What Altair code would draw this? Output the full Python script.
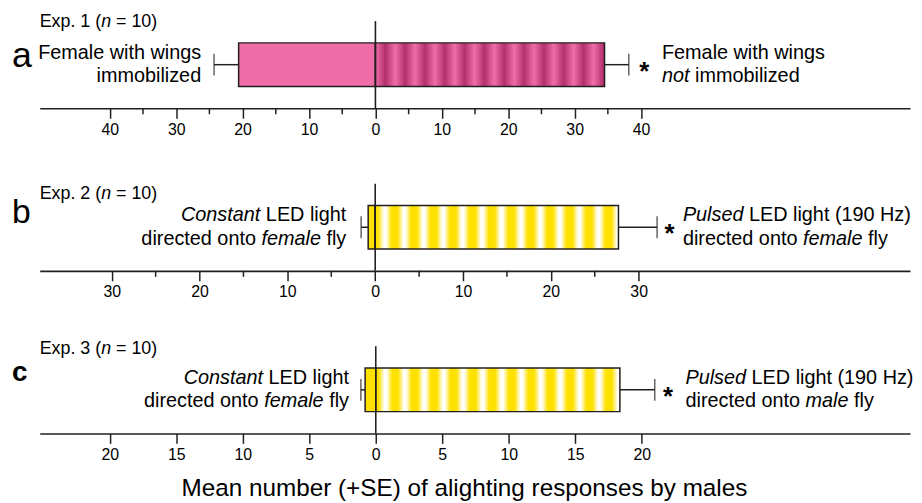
import altair as alt
import pandas as pd

# ---------------- data ----------------
experiments = ["Exp. 1", "Exp. 2", "Exp. 3"]
panel_letters = ["a", "b", "c"]
n_flies = [10, 10, 10]
left_means = [20.6, 0.8, 0.8]
left_se = [3.7, 0.8, 0.32]
right_means = [34.5, 27.7, 18.35]
right_se = [3.65, 4.4, 2.62]
significance = ["*", "*", "*"]

major_ticks = [
    [-40, -30, -20, -10, 0, 10, 20, 30, 40],
    [-30, -20, -10, 0, 10, 20, 30],
    [-20, -15, -10, -5, 0, 5, 10, 15, 20],
]
minor_ticks = [
    [-35, -25, -15, -5, 5, 15, 25, 35],
    [-25, -15, -5, 5, 15, 25],
    [],
]
x_domains = [[-50.55, 80.5], [-38.2, 60.9], [-25.26, 40.16]]

# each line is a list of (text, italic) segments; a leading space marks a gap
left_labels = [
    [[("Female with wings", False)], [("immobilized", False)]],
    [[("Constant", True), (" LED light", False)],
     [("directed onto", False), (" female", True), (" fly", False)]],
    [[("Constant", True), (" LED light", False)],
     [("directed onto", False), (" female", True), (" fly", False)]],
]
right_labels = [
    [[("Female with wings", False)], [("not", True), (" immobilized", False)]],
    [[("Pulsed", True), (" LED light (190 Hz)", False)],
     [("directed onto", False), (" female", True), (" fly", False)]],
    [[("Pulsed", True), (" LED light (190 Hz)", False)],
     [("directed onto", False), (" male", True), (" fly", False)]],
]
x_title = "Mean number (+SE) of alighting responses by males"

# ---------------- style ----------------
FONT = "Liberation Sans"
INK = "#231F20"
PINK = "#F06EA8"
MAGENTA = "#B3306C"
YELLOW = "#FFE100"
WHITE = "#FFFFFF"
PW, PH = 878, 88
LABEL_SIZE = 20
left_gap = [-13, -15, -12]
right_gap = [33.5, 26, 31]
star_gap = [15.5, 12.5, 13.5]
exp_dy = [-38, -29, -36]
letter_dy = [2, -4, -8.5]
letter_size = [36, 34, 28]
letter_weight = ["normal", "normal", "bold"]
line_dy = [-6, 17.5]

CW = {' ': 278, '(': 333, ')': 333, '+': 584, '.': 278, '=': 584, '*': 389,
      'A': 667, 'B': 667, 'C': 722, 'D': 722, 'E': 667, 'F': 611, 'H': 722,
      'L': 556, 'M': 833, 'P': 667, 'S': 667,
      'a': 556, 'b': 556, 'c': 500, 'd': 556, 'e': 556, 'f': 278, 'g': 556,
      'h': 556, 'i': 222, 'j': 222, 'k': 500, 'l': 222, 'm': 833, 'n': 556,
      'o': 556, 'p': 556, 'q': 556, 'r': 333, 's': 500, 't': 278, 'u': 556,
      'v': 500, 'w': 722, 'x': 500, 'y': 500, 'z': 500}
for d in "0123456789":
    CW[d] = 556


def tw(s, size):
    return sum(CW.get(c, 556) for c in s) * size / 1000.0


def hex2rgb(h):
    h = h.lstrip("#")
    return [int(h[k:k + 2], 16) for k in (0, 2, 4)]


def mix(c1, c2, t):
    a, b = hex2rgb(c1), hex2rgb(c2)
    return "#" + "".join(f"{round(a[k] + (b[k] - a[k]) * t):02x}" for k in range(3))


def stripe_stops(bar_px, period, profile):
    stops = []
    prev = None
    k = 0
    while True:
        for ph, col in profile:
            off = (k + ph) * period / bar_px
            if off >= 1:
                if prev is not None and off > prev[0]:
                    t = (1 - prev[0]) / (off - prev[0])
                    col = mix(prev[1], col, t)
                stops.append(alt.GradientStop(offset=1, color=col))
                return stops
            stops.append(alt.GradientStop(offset=round(off, 5), color=col))
            prev = (off, col)
        k += 1


pink_profile = [(0, PINK), (0.5, MAGENTA)]
yellow_profile = [(0, YELLOW), (0.15, YELLOW), (0.45, WHITE), (0.55, WHITE), (0.85, YELLOW)]


def axis_for(i):
    kw = dict(values=major_ticks[i], labelExpr="abs(datum.value)", grid=False,
              domainColor=INK, domainWidth=1.6, tickColor=INK, tickWidth=1.5,
              tickSize=10, labelFont=FONT, labelFontSize=16, labelColor="black",
              labelPadding=3, labelFlush=False, labelOverlap=False,
              titleFont=FONT, titleFontSize=24.5, titleFontWeight="normal",
              titleColor="black", titlePadding=15)
    if i == 2:
        kw["title"] = x_title
        kw["titleX"] = 428
        kw["titleAlign"] = "center"
    else:
        kw["title"] = None
    return alt.Axis(**kw)


def xenc(field, i):
    return alt.X(f"{field}:Q", scale=alt.Scale(domain=x_domains[i], nice=False, zero=False),
                 axis=axis_for(i))


yenc = alt.Y("exp:N", axis=None, scale=alt.Scale(paddingInner=0.5, paddingOuter=0.25))


def text_layer(df, x, seg, italic, dx, dy, align, size=LABEL_SIZE, weight="normal"):
    return alt.Chart(df).mark_text(
        text=seg, font=FONT, fontSize=size, fontStyle="italic" if italic else "normal",
        fontWeight=weight, align=align, baseline="alphabetic", dx=dx, dy=dy, color="black"
    ).encode(x=x, y=yenc)


def line_layers(df, x, line, dx0, dy, align, size=LABEL_SIZE):
    layers = []
    if align == "left":
        off = dx0
        for seg, it in line:
            lead = len(seg) - len(seg.lstrip(" "))
            off += tw(" " * lead, size)
            txt = seg.strip()
            layers.append(text_layer(df, x, txt, it, off, dy, "left", size))
            off += tw(txt, size)
    else:
        off = 0.0
        for seg, it in reversed(line):
            txt = seg.strip()
            layers.append(text_layer(df, x, txt, it, dx0 - off, dy, "right", size))
            off += tw(seg, size)
    return layers


panels = []
for i in range(3):
    ppu = PW / (x_domains[i][1] - x_domains[i][0])
    df = pd.DataFrame({
        "exp": [experiments[i]],
        "left_lo": [-left_means[i]],
        "left_end": [-(left_means[i] + left_se[i])],
        "zero": [0.0],
        "right_hi": [right_means[i]],
        "right_end": [right_means[i] + right_se[i]],
    })
    if i == 0:
        left_fill = PINK
        right_fill = alt.LinearGradient(
            gradient="linear", x1=0, x2=1, y1=0, y2=0,
            stops=stripe_stops(right_means[i] * ppu, 20.0, pink_profile))
    else:
        left_fill = YELLOW
        right_fill = alt.LinearGradient(
            gradient="linear", x1=0, x2=1, y1=0, y2=0,
            stops=stripe_stops(right_means[i] * ppu, 19.6, yellow_profile))

    layers = []
    left_bar = alt.Chart(df).mark_bar(fill=left_fill, stroke=INK, strokeWidth=1.5).encode(
        x=xenc("left_lo", i), x2="zero:Q", y=yenc)
    right_bar = alt.Chart(df).mark_bar(fill=right_fill, stroke=INK, strokeWidth=1.5).encode(
        x=xenc("zero", i), x2="right_hi:Q", y=yenc)
    layers += [left_bar, right_bar]

    # error bars
    layers.append(alt.Chart(df).mark_rule(color=INK, strokeWidth=1.5).encode(
        x=xenc("left_lo", i), x2="left_end:Q", y=yenc))
    layers.append(alt.Chart(df).mark_rule(color=INK, strokeWidth=1.5).encode(
        x=xenc("right_hi", i), x2="right_end:Q", y=yenc))
    layers.append(alt.Chart(df).mark_tick(color=INK, thickness=1.5, size=22, orient="vertical").encode(
        x=xenc("left_end", i), y=yenc))
    layers.append(alt.Chart(df).mark_tick(color=INK, thickness=1.5, size=22, orient="vertical").encode(
        x=xenc("right_end", i), y=yenc))

    # zero line
    layers.append(alt.Chart(df).mark_rule(color=INK, strokeWidth=1.6).encode(x=xenc("zero", i)))

    # minor ticks
    if minor_ticks[i]:
        mdf = pd.DataFrame({"v": minor_ticks[i]})
        layers.append(alt.Chart(mdf).mark_rule(color=INK, strokeWidth=1.5).encode(
            x=xenc("v", i), y=alt.value(PH), y2=alt.value(PH + 6)))

    # significance star
    layers.append(text_layer(df, xenc("right_end", i), significance[i], False, star_gap[i], 15,
                             "center", size=26, weight="bold"))

    # side labels
    for li, line in enumerate(left_labels[i]):
        layers += line_layers(df, xenc("left_end", i), line, left_gap[i], line_dy[li], "right")
    for li, line in enumerate(right_labels[i]):
        layers += line_layers(df, xenc("right_end", i), line, right_gap[i], line_dy[li], "left")

    # experiment label
    exp_line = [(f"{experiments[i]} (", False), ("n", True), (f" = {n_flies[i]})", False)]
    layers += line_layers(df, alt.value(0), exp_line, 0, exp_dy[i], "left", size=18)

    # panel letter
    layers.append(text_layer(df, alt.value(-28), panel_letters[i], False, 0, letter_dy[i], "left",
                             size=letter_size[i], weight=letter_weight[i]))

    panels.append(alt.layer(*layers).properties(width=PW, height=PH))

chart = alt.vconcat(*panels, spacing=76, bounds="flush",
                    padding={"left": 4, "top": 3, "right": 0, "bottom": 0}
                    ).configure_view(stroke=None)

chart.save("out.html", embed_options={"renderer": "svg", "actions": False})
